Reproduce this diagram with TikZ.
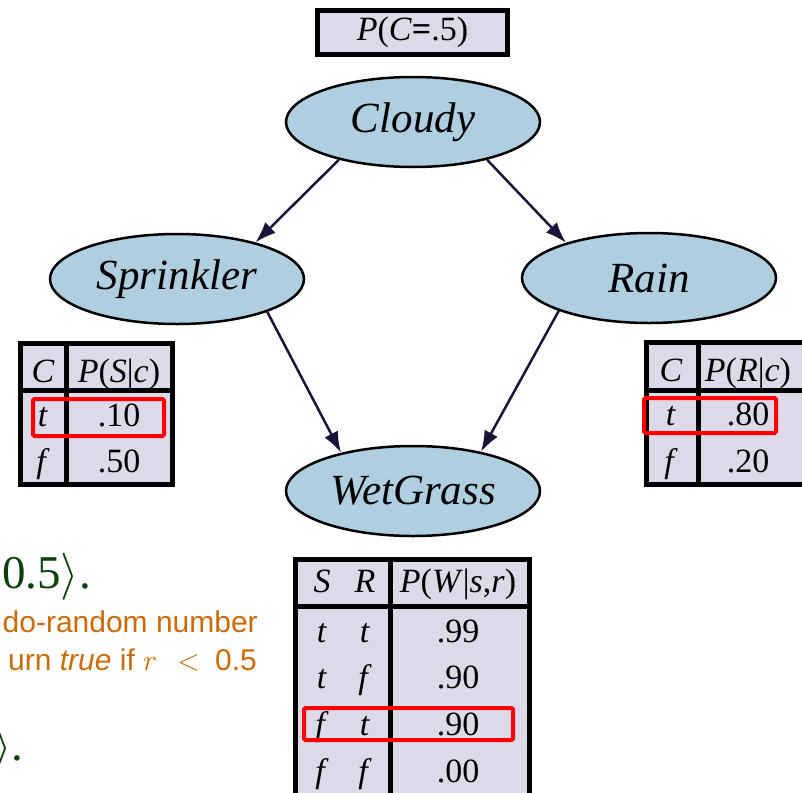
\RequirePackage{fix-cm}
\documentclass[tikz,border=0pt]{standalone}
\usepackage{fontspec}
\setmainfont{Liberation Serif}
\newfontfamily\slidefont{Liberation Sans}
\usetikzlibrary{shapes.geometric}
\usetikzlibrary{arrows.meta}
\definecolor{NodeBlue}{HTML}{AFCFE0}
\definecolor{TableLilac}{HTML}{DDD9E8}
\definecolor{EdgeNavy}{HTML}{16163A}
\definecolor{SlideGreen}{HTML}{0B3F0B}
\definecolor{SlideOrange}{HTML}{CC6A0A}
\definecolor{MarkRed}{HTML}{FF0000}
\tikzset{
  bnnode/.style={ellipse, draw=black, line width=2.5pt, fill=NodeBlue,
    minimum width=254pt, minimum height=90pt, inner sep=0pt,
    font=\fontsize{43}{50}\selectfont\itshape},
  bnedge/.style={EdgeNavy, line width=2.5pt, -{Latex[length=21pt,width=15pt]}},
  cptbox/.style={draw=black, fill=TableLilac, line width=5pt},
  cptrule/.style={black, line width=5pt},
  cpttext/.style={anchor=base, inner sep=0pt, font=\fontsize{34}{40}\selectfont},
  redmark/.style={draw=MarkRed, line width=4pt, rounded corners=1.5pt},
  fragtext/.style={inner sep=0pt},
}

\begin{document}
\begin{tikzpicture}[x=1pt,y=-1pt]

  \useasboundingbox (0,0) rectangle (802,792);
  \clip (0,0) rectangle (802,792);

  % network
  \node[bnnode] (cloudy)    at (413,122) {Cloudy};
  \node[bnnode] (sprinkler) at (177,279) {Sprinkler};
  \node[bnnode] (rain)      at (649,278) {Rain};
  \node[bnnode] (wetgrass)  at (413,491) {WetGrass};

  \draw[bnedge] (cloudy.207) -- (sprinkler.25);
  \draw[bnedge] (cloudy.333) -- (rain.157);
  \draw[bnedge] (sprinkler.340) -- (wetgrass.152);
  \draw[bnedge] (rain.200) -- (wetgrass.30);

  % prior of C
  \node[cptbox, minimum width=190pt, minimum height=44pt, inner sep=0pt,
        font=\fontsize{34}{40}\selectfont] (prior) at (412.5,32.5)
        {\textit{P}(\textit{C}\textbf{=}.5)};

  % table for S
  \draw[cptbox] (20.5,343.5) rectangle (172.5,484.5);
  \draw[cptrule] (66,343.5) -- (66,484.5);
  \draw[cptrule] (20.5,390) -- (172.5,390);
  \node[cpttext] (s-c) at (43,382) {\textit{C}};
  \node[cpttext] (s-p) at (119,382) {\textit{P}(\textit{S}|\textit{c})};
  \foreach \v/\p/\y [count=\i] in {t/.10/426, f/.50/472}
  {
    \node[cpttext] (s-\i-v) at (43,\y) {\textit{\v}};
    \node[cpttext] (s-\i-p) at (119,\y) {\p};
  }
  \draw[redmark] (33,399) rectangle (164,436);

  % table for R
  \draw[cptbox] (646.5,342.5) rectangle (808,484.5);
  \draw[cptrule] (698,342.5) -- (698,484.5);
  \draw[cptrule] (646.5,390) -- (808,390);
  \node[cpttext] (r-c) at (671,381) {\textit{C}};
  \node[cpttext] (r-p) at (748,381) {\textit{P}(\textit{R}|\textit{c})};
  \foreach \v/\p/\y [count=\i] in {t/.80/425, f/.20/472}
  {
    \node[cpttext] (r-\i-v) at (671,\y) {\textit{\v}};
    \node[cpttext] (r-\i-p) at (748,\y) {\p};
  }
  \draw[redmark] (644,398) rectangle (776,433);

  % table for W
  \draw[cptbox] (295.5,559.5) rectangle (529.5,805);
  \draw[cptrule] (390,559.5) -- (390,805);
  \draw[cptrule] (295.5,606) -- (529.5,606);
  \node[cpttext] (w-s) at (322,592) {\textit{S}};
  \node[cpttext] (w-r) at (365,592) {\textit{R}};
  \node[cpttext] (w-p) at (458,592) {\textit{P}(\textit{W}|\textit{s},\textit{r})};
  \foreach \a/\b/\p/\y [count=\i] in {t/t/.99/642, t/f/.90/688, f/t/.90/735, f/f/.00/782}
  {
    \node[cpttext] (w-\i-s) at (322,\y) {\textit{\a}};
    \node[cpttext] (w-\i-r) at (365,\y) {\textit{\b}};
    \node[cpttext] (w-\i-p) at (458,\y) {\p};
  }
  \draw[redmark] (304,708) rectangle (513,740);

  % slide text behind
  \node[fragtext, anchor=base west, text=SlideGreen, font=\fontsize{47}{54}\selectfont]
    (frag-a) at (2,588) {0.5$\rangle$.};
  \node[fragtext, anchor=base east, text=SlideOrange, font=\slidefont\fontsize{30}{36}\selectfont]
    (frag-b) at (258,632) {do-random number};
  \node[fragtext, anchor=base east, text=SlideOrange, font=\slidefont\fontsize{30}{36}\selectfont]
    (frag-c) at (257,670) {urn \textit{true} if $r$\hspace{20pt}$<$\hspace{15pt}0.5};
  \node[fragtext, anchor=base west, text=SlideGreen, font=\fontsize{47}{54}\selectfont]
    (frag-d) at (-7,760) {$\rangle$.};

\end{tikzpicture}
\end{document}
